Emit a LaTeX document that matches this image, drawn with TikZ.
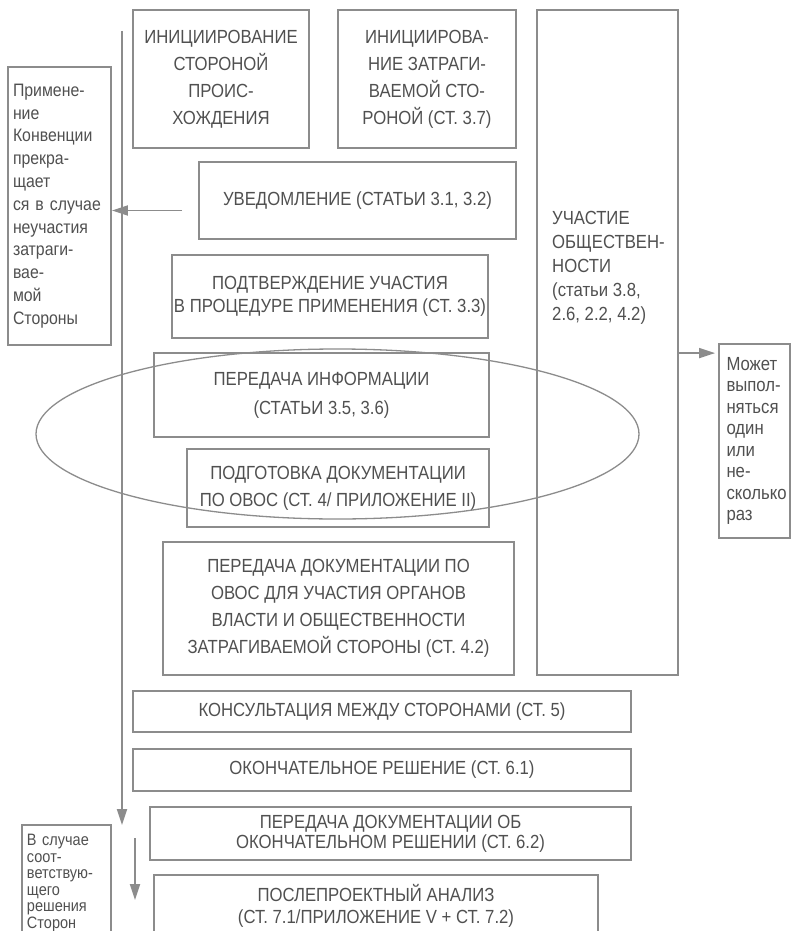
\documentclass[tikz,border=0pt]{standalone}
\usepackage{fontspec}
\setmainfont{Liberation Sans}[FakeStretch=0.88]
\usetikzlibrary{calc}
\usetikzlibrary{arrows.meta}
\usepackage{xcolor}

\definecolor{linegray}{RGB}{140,140,140}
\definecolor{textgray}{RGB}{80,80,80}

\tikzset{
  box/.style={draw=linegray, line width=1.8pt, text=textgray, align=center,
    inner sep=0pt, font=\fontsize{19}{27}\selectfont},
  sidebox/.style={box, align=left, anchor=center},
  arr/.style={draw=linegray, line width=1.8pt, -{Triangle[length=16pt,width=10pt]}},
  ell/.style={draw=linegray, line width=1.3pt}
}

\begin{document}
\begin{tikzpicture}[x=1pt, y=-1pt]
\useasboundingbox (0,0) rectangle (791,931);
\clip (0,0) rectangle (791,931);

% start of the procedure
\node[box, minimum width=176, minimum height=138] (origin) at (221,79)
  {ИНИЦИИРОВАНИЕ\\СТОРОНОЙ\\ПРОИС-\\ХОЖДЕНИЯ};
\node[box, minimum width=178, minimum height=138] (affected) at (427,79)
  {ИНИЦИИРОВА-\\НИЕ ЗАТРАГИ-\\ВАЕМОЙ СТО-\\РОНОЙ (СТ. 3.7)};

% public participation column
\node[box, minimum width=141, minimum height=665] (public) at (607.5,342.5) {};
\node[text=textgray, align=left, inner sep=0pt, anchor=west,
  font=\fontsize{19}{24}\selectfont] (publictext) at (552,267.5)
  {УЧАСТИЕ\\ОБЩЕСТВЕН-\\НОСТИ\\(статьи 3.8,\\2.6, 2.2, 4.2)};

% steps
\node[box, minimum width=317, minimum height=77] (notif) at (357.5,200.5)
  {УВЕДОМЛЕНИЕ (СТАТЬИ 3.1, 3.2)};
\node[box, minimum width=316, minimum height=83, font=\fontsize{19}{23}\selectfont] (confirm) at (330,296.5)
  {ПОДТВЕРЖДЕНИЕ УЧАСТИЯ\\В ПРОЦЕДУРЕ ПРИМЕНЕНИЯ (СТ. 3.3)};
\node[box, minimum width=335, minimum height=84, font=\fontsize{19}{29}\selectfont] (info) at (321.5,395)
  {ПЕРЕДАЧА ИНФОРМАЦИИ\\(СТАТЬИ 3.5, 3.6)};
\node[box, minimum width=302, minimum height=78] (prep) at (338,488)
  {ПОДГОТОВКА ДОКУМЕНТАЦИИ\\ПО ОВОС (СТ. 4/ ПРИЛОЖЕНИЕ II)};
\node[box, minimum width=351, minimum height=133] (transfer) at (338.5,608.5)
  {ПЕРЕДАЧА ДОКУМЕНТАЦИИ ПО\\ОВОС ДЛЯ УЧАСТИЯ ОРГАНОВ\\ВЛАСТИ И ОБЩЕСТВЕННОСТИ\\ЗАТРАГИВАЕМОЙ СТОРОНЫ (СТ. 4.2)};
\node[box, minimum width=498, minimum height=41] (consult) at (382,711.5)
  {КОНСУЛЬТАЦИЯ МЕЖДУ СТОРОНАМИ (СТ. 5)};
\node[box, minimum width=498, minimum height=42] (final) at (382,770)
  {ОКОНЧАТЕЛЬНОЕ РЕШЕНИЕ (СТ. 6.1)};
\node[box, minimum width=481, minimum height=53, font=\fontsize{19}{20}\selectfont] (finaldoc) at (390.5,833.5)
  {ПЕРЕДАЧА ДОКУМЕНТАЦИИ ОБ\\ОКОНЧАТЕЛЬНОМ РЕШЕНИИ (СТ. 6.2)};
\node[box, minimum width=444, minimum height=62, font=\fontsize{19}{22}\selectfont] (postan) at (376,906)
  {ПОСЛЕПРОЕКТНЫЙ АНАЛИЗ\\(СТ. 7.1/ПРИЛОЖЕНИЕ V + СТ. 7.2)};

% side notes
\node[sidebox, text width=93, inner xsep=5, minimum height=278, font=\fontsize{18}{22.8}\selectfont] (note) at (59.5,206)
  {Примене-\\ние\\Конвенции\\прекра-\\щает\\ся в случае\\неучастия\\затраги-\\вае-\\мой\\Стороны};
\node[sidebox, text width=56, inner xsep=7.5, minimum height=194, font=\fontsize{19}{21.5}\selectfont] (may) at (754.5,441)
  {Может\\выпол-\\няться\\один\\или\\не-\\сколько\\раз};
\node[sidebox, text width=79, inner xsep=5, minimum height=116, font=\fontsize{16.5}{16.5}\selectfont] (decision) at (66.5,883)
  {В случае\\соот-\\ветствую-\\щего\\решения\\Сторон};

% grouping of the two steps
\draw[ell] (337.5,434) ellipse [x radius=301.5, y radius=85];

% arrows
\coordinate (flowtop) at (122,31);
\coordinate (flowend) at (122,825);
\draw[arr] (flowtop) -- (flowend);
\coordinate (notifout) at ($(notif.west)+(-16,10)$);
\draw[arr] (notifout) -- (notifout -| note.east);
\coordinate (mayin) at ($(may.north west)+(-3,10)$);
\draw[arr] (public.east |- mayin) -- (mayin);
\coordinate (agreetop) at (135,838);
\coordinate (agreeend) at (135,900);
\draw[arr] (agreetop) -- (agreeend);
\end{tikzpicture}
\end{document}
